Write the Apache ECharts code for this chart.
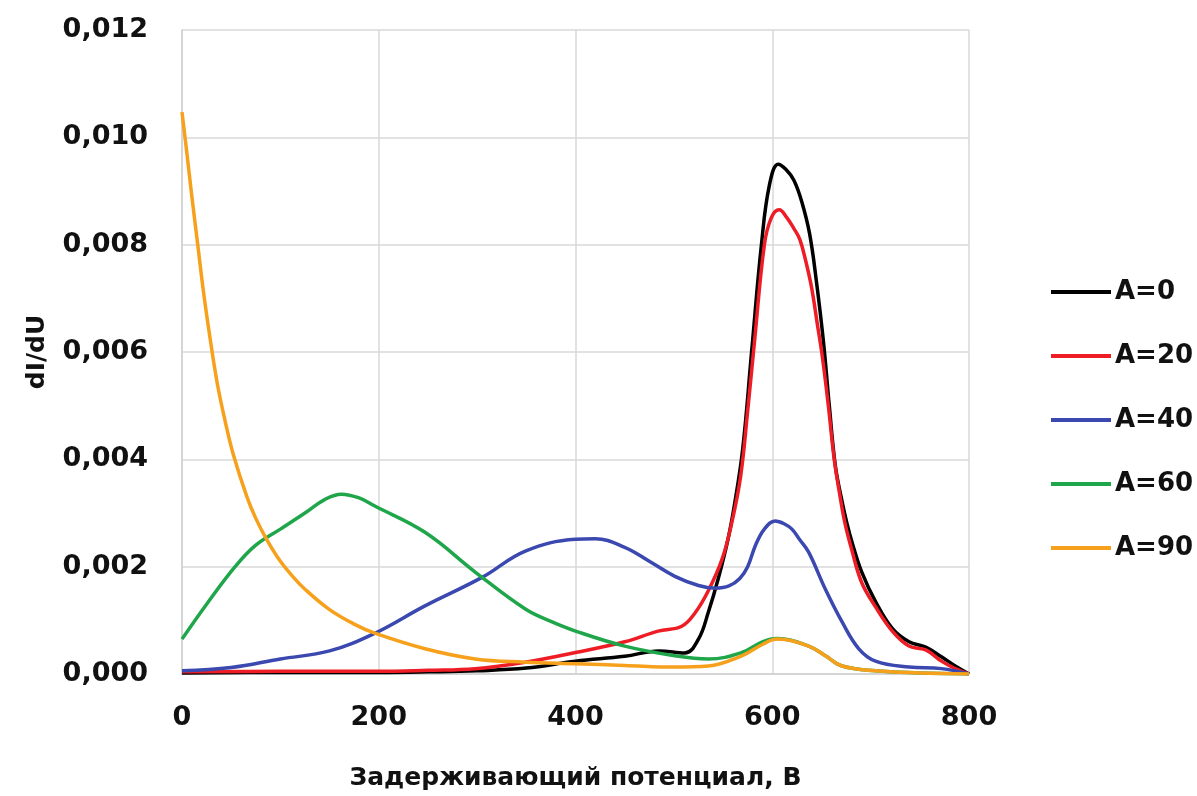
<!DOCTYPE html>
<html>
<head>
<meta charset="utf-8">
<script src="https://cdn.jsdelivr.net/npm/echarts@6/dist/echarts.min.js"></script>
<style>
  html, body { margin: 0; padding: 0; background: #ffffff; }
  #chart { width: 1197px; height: 796px; }
</style>
</head>
<body>
<div id="chart"></div>
<script>
// Retarding potential (V) vs. dI/dU for several angles A
const seriesNames = ['A=0', 'A=20', 'A=40', 'A=60', 'A=90'];
const seriesColors = ['#000000', '#ee1c25', '#3a48b0', '#1fa64a', '#f6a01c'];

const a0 = [
  [0, 0.00002], [100, 0.00003], [200, 0.00003], [250, 0.00004], [300, 0.00006],
  [350, 0.00011], [400, 0.00024], [450, 0.00033], [485, 0.00043], [511, 0.00039],
  [525, 0.00065], [535, 0.00115], [545, 0.00177], [555, 0.00251], [562, 0.0032],
  [570, 0.0042], [579, 0.006], [589, 0.008], [597, 0.0091], [606, 0.0095],
  [614, 0.0094], [622, 0.0092], [630, 0.0088], [638, 0.0082], [645, 0.0073],
  [652, 0.0062], [658, 0.005], [664, 0.0039], [670, 0.0033], [676, 0.0028],
  [682, 0.0024], [691, 0.0019], [705, 0.00135], [722, 0.00085], [739, 0.0006],
  [756, 0.0005], [772, 0.00032], [786, 0.00015], [800, 0]
];

const a20 = [
  [0, 0.00004], [100, 0.00005], [200, 0.00005], [250, 0.00007], [298, 0.0001],
  [349, 0.00022], [400, 0.0004], [450, 0.0006], [484, 0.0008], [508, 0.00089],
  [522, 0.00115], [535, 0.00155], [549, 0.00214], [559, 0.00283], [568, 0.0037],
  [575, 0.0049], [582, 0.0062], [592, 0.008], [599, 0.0085], [607, 0.00865],
  [615, 0.0085], [622, 0.0083], [628, 0.0081], [634, 0.0077], [640, 0.0072],
  [646, 0.0065], [651, 0.0059], [657, 0.005], [663, 0.004], [669, 0.0033],
  [674, 0.0028], [681, 0.0023], [691, 0.0017], [705, 0.00125], [722, 0.0008],
  [739, 0.00052], [756, 0.00045], [772, 0.00024], [786, 0.0001], [800, 0]
];

const a40 = [
  [0, 0.00006], [50, 0.00012], [100, 0.00028], [150, 0.00043], [196, 0.00076],
  [247, 0.00127], [305, 0.0018], [349, 0.00229], [400, 0.00251], [420, 0.00252],
  [450, 0.00236], [475, 0.0021], [501, 0.00182], [525, 0.00165], [542, 0.0016],
  [556, 0.00164], [567, 0.00178], [575, 0.002], [583, 0.0024], [592, 0.0027],
  [603, 0.00285], [612, 0.0028], [620, 0.0027], [628, 0.0025], [637, 0.00227],
  [654, 0.00158], [671, 0.00097], [688, 0.00047], [705, 0.00024], [739, 0.00013],
  [772, 0.0001], [800, 0]
];

const a60 = [
  [0, 0.00065], [25, 0.0013], [54, 0.002], [75, 0.0024], [100, 0.0027],
  [125, 0.003], [145, 0.00325], [162, 0.00335], [180, 0.00328], [196, 0.00313],
  [247, 0.00264], [298, 0.0019], [349, 0.00121], [375, 0.00098], [400, 0.0008],
  [450, 0.00052], [501, 0.00034], [535, 0.00028], [569, 0.0004], [590, 0.0006],
  [605, 0.00066], [637, 0.00052], [654, 0.00034], [671, 0.00015], [705, 0.00006],
  [750, 0.00002], [800, 0]
];

const a90 = [
  [0, 0.01047], [5, 0.0097], [10, 0.0089], [16, 0.008], [22, 0.0071],
  [29, 0.0062], [36, 0.0054], [44, 0.0047], [52, 0.0041], [66, 0.0033],
  [75, 0.0029], [86, 0.00251], [100, 0.0021], [112, 0.00183], [125, 0.00158],
  [150, 0.0012], [175, 0.00093], [196, 0.00076], [247, 0.00047], [298, 0.00028],
  [349, 0.00022], [400, 0.00019], [450, 0.00016], [501, 0.00013], [535, 0.00015],
  [569, 0.00034], [590, 0.00055], [605, 0.00065], [637, 0.00052], [654, 0.00034],
  [671, 0.00015], [705, 0.00006], [750, 0.00002], [800, 0]
];

const seriesData = [a0, a20, a40, a60, a90];

const xTicks = { min: 0, max: 800, interval: 200 };
const yTicks = { min: 0, max: 0.012, interval: 0.002 };

const font = '"DejaVu Sans", sans-serif';

const chart = echarts.init(document.getElementById('chart'), null, { renderer: 'canvas' });

chart.setOption({
  backgroundColor: '#ffffff',
  animation: false,
  grid: { left: 182, right: 228, top: 30, bottom: 121, containLabel: false },
  xAxis: {
    type: 'value',
    min: xTicks.min, max: xTicks.max, interval: xTicks.interval,
    name: 'Задерживающий потенциал, В',
    nameLocation: 'middle',
    nameGap: 92,
    nameTextStyle: { fontFamily: font, fontWeight: 'bold', fontSize: 25, color: '#111' },
    axisLine: { show: true, lineStyle: { color: '#d0d0d0', width: 1.5 } },
    axisTick: { show: false },
    splitLine: { show: true, lineStyle: { color: '#d9d9d9', width: 1.5 } },
    axisLabel: { fontFamily: font, fontWeight: 'bold', fontSize: 27, color: '#111', margin: 30 }
  },
  yAxis: {
    type: 'value',
    min: yTicks.min, max: yTicks.max, interval: yTicks.interval,
    name: 'dI/dU',
    nameLocation: 'middle',
    nameGap: 132,
    nameRotate: 90,
    nameTextStyle: { fontFamily: font, fontWeight: 'bold', fontSize: 25, color: '#111' },
    axisLine: { show: true, lineStyle: { color: '#d0d0d0', width: 1.5 } },
    axisTick: { show: false },
    splitLine: { show: true, lineStyle: { color: '#d9d9d9', width: 1.5 } },
    axisLabel: {
      fontFamily: font, fontWeight: 'bold', fontSize: 27, color: '#111', margin: 34,
      formatter: v => v.toFixed(3).replace('.', ',')
    }
  },
  legend: {
    orient: 'vertical',
    left: 1046,
    top: 272,
    icon: 'rect',
    itemWidth: 60,
    itemHeight: 4,
    itemGap: 34,
    textStyle: {
      fontFamily: font, fontWeight: 'bold', fontSize: 26, color: '#111',
      lineHeight: 30, padding: [0, 0, 0, -1]
    },
    data: seriesNames
  },
  series: seriesData.map((d, i) => ({
    name: seriesNames[i],
    type: 'line',
    data: d,
    smooth: 0.4,
    symbol: 'none',
    color: seriesColors[i],
    lineStyle: { color: seriesColors[i], width: 3.5 },
    z: 2 + i
  }))
});
</script>
</body>
</html>
